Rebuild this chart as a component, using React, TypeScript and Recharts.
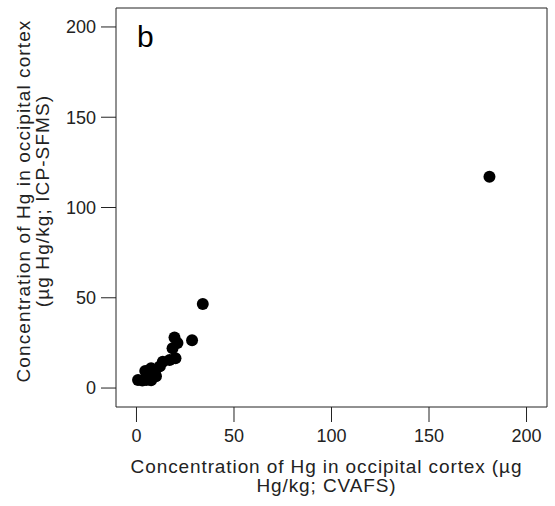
import React from "react";
import { ScatterChart, Scatter, XAxis, YAxis, ReferenceArea } from "recharts";

// CVAFS (x) vs ICP-SFMS (y), µg Hg/kg
const cvafs = [0.8, 3, 5, 7.5, 6.5, 9.5, 4.5, 7.5, 10, 12, 13.5, 17, 20, 18.5, 21, 19.5, 28.5, 34, 181];
const icpSfms = [4.5, 4.2, 4.4, 4.3, 7, 8, 9.5, 11, 6.5, 12, 14.5, 15.5, 16.5, 22, 25, 28, 26.5, 46.5, 117];

const ticks = [0, 50, 100, 150, 200];
const domain: [number, number] = [-10.5, 210.5];

const font = "Liberation Sans, Arial, Helvetica, sans-serif";

const points = cvafs.map((x, i) => ({ x, y: icpSfms[i] }));

function XTitle({ viewBox }: any) {
  const cx = viewBox.x + viewBox.width / 2 - 5;
  return (
    <text x={cx} y={473} textAnchor="middle" fontSize={19} letterSpacing={0.9} fill="#222" fontFamily={font}>
      <tspan x={cx}>Concentration of Hg in occipital cortex (µg</tspan>
      <tspan x={cx} dy={19}>Hg/kg; CVAFS)</tspan>
    </text>
  );
}

function YTitle() {
  const cy = 201;
  const x = 30;
  return (
    <text transform={`rotate(-90, ${x}, ${cy})`} x={x} y={cy} textAnchor="middle" fontSize={19} letterSpacing={1.1} fill="#222" fontFamily={font}>
      <tspan x={x}>Concentration of Hg in occipital cortex</tspan>
      <tspan x={x} dy={19}>(µg Hg/kg; ICP-SFMS)</tspan>
    </text>
  );
}

function PanelLabel({ viewBox }: any) {
  return (
    <text x={viewBox.x + 21} y={viewBox.y + 39} fontSize={30} fill="#000" fontFamily={font}>
      b
    </text>
  );
}

export default function App() {
  return (
    <div style={{ position: "absolute", left: 0, top: 0, background: "#fff" }}>
      <ScatterChart width={555} height={506} margin={{ top: 8, right: 8, bottom: 0, left: 0 }}>
        <XAxis
          type="number"
          dataKey="x"
          domain={domain}
          ticks={ticks}
          allowDataOverflow
          axisLine={false}
          tickLine={{ stroke: "#222", strokeWidth: 1 }}
          tickSize={15}
          tickMargin={7}
          height={99}
          tick={{ fontSize: 18, fill: "#222", fontFamily: font }}
          label={<XTitle />}
        />
        <YAxis
          type="number"
          dataKey="y"
          domain={domain}
          ticks={ticks}
          allowDataOverflow
          axisLine={false}
          tickLine={{ stroke: "#222", strokeWidth: 1 }}
          tickSize={15}
          tickMargin={5}
          width={116}
          tick={{ fontSize: 18, fill: "#222", fontFamily: font }}
          label={<YTitle />}
        />
        <ReferenceArea
          x1={domain[0]}
          x2={domain[1]}
          y1={domain[0]}
          y2={domain[1]}
          fill="none"
          stroke="#222"
          strokeWidth={1}
          ifOverflow="visible"
          label={<PanelLabel />}
        />
        <Scatter data={points} fill="#000" isAnimationActive={false} shape={(p: any) => <circle cx={p.cx} cy={p.cy} r={6} fill="#000" />} />
      </ScatterChart>
    </div>
  );
}
